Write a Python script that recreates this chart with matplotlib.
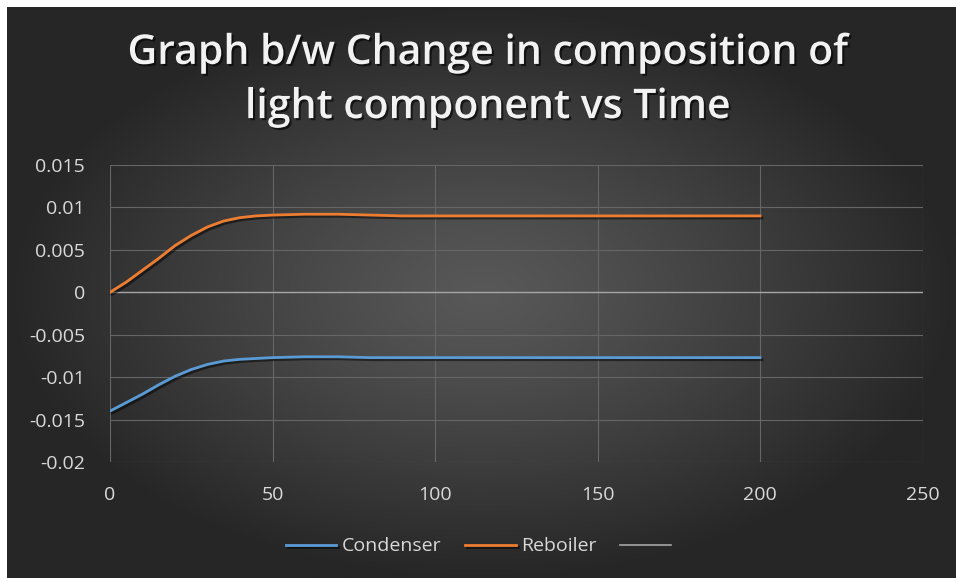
import matplotlib
matplotlib.use("Agg")
import matplotlib.pyplot as plt
import matplotlib.patheffects as pe
import numpy as np

# time and composition change
t = [0, 5, 10, 15, 20, 25, 30, 35, 40, 45, 50, 60, 70, 80, 90, 100, 120, 140, 160, 180, 200]
condenser = [-0.0140, -0.0130, -0.0120, -0.0109, -0.0099, -0.0091, -0.0085, -0.0081, -0.0079,
             -0.0078, -0.0077, -0.0076, -0.0076, -0.0077, -0.0077, -0.0077, -0.0077, -0.0077,
             -0.0077, -0.0077, -0.0077]
reboiler = [0.0, 0.0012, 0.0026, 0.0040, 0.0055, 0.0067, 0.0077, 0.0084, 0.0088, 0.0090,
            0.0091, 0.0092, 0.0092, 0.0091, 0.0090, 0.0090, 0.0090, 0.0090, 0.0090, 0.0090, 0.0090]
xticks = [0, 50, 100, 150, 200, 250]
yticks = [-0.02, -0.015, -0.01, -0.005, 0, 0.005, 0.01, 0.015]
ytick_labels = ['-0.02', '-0.015', '-0.01', '-0.005', '0', '0.005', '0.01', '0.015']

W, H = 956, 578
fig = plt.figure(figsize=(W / 100, H / 100), dpi=100, facecolor='white')

# dark radial background like the excel chart style
bg = fig.add_axes([7 / W, 0, 1 - 7 / W, 1 - 7 / H])
yy, xx = np.mgrid[0:300, 0:500]
dx = (xx - 250) / 250.0
dy = (yy - 150) / 150.0
r = np.clip(np.sqrt(dx ** 2 + dy ** 2), 0, 1)
c = (0x58 - (0x58 - 0x26) * r ** 1.2) / 255.0
bg.imshow(np.dstack([c, c, c]), aspect='auto', extent=[0, 1, 0, 1])
bg.axis('off')

ax = fig.add_axes([110 / W, 1 - 462 / H, (922.5 - 110) / W, (462 - 165) / H])
ax.patch.set_alpha(0)

shadow = [pe.SimpleLineShadow(offset=(1.5, -1.5), shadow_color='black', alpha=0.5), pe.Normal()]
ax.plot(t, condenser, color='#5b9bd5', lw=2.0, label='Condenser', path_effects=shadow)
ax.plot(t, reboiler, color='#ed7d31', lw=2.0, label='Reboiler', path_effects=shadow)
ax.plot([], [], color='#a6a6a6', lw=1.2, label=' ')

ax.set_xlim(0, 250)
ax.set_ylim(-0.02, 0.015)
ax.set_xticks(xticks)
ax.set_yticks(yticks)
ax.set_yticklabels(ytick_labels)
ax.grid(True, color='#666666', lw=0.8)
ax.set_axisbelow(True)
ax.axhline(0, color='#a6a6a6', lw=1.0, zorder=1.5)
for s in ax.spines.values():
    s.set_visible(False)
ax.tick_params(length=0, colors='#d9d9d9', labelsize=14)
ax.tick_params(axis='x', pad=17)
ax.tick_params(axis='y', pad=18)
for lab in ax.get_xticklabels() + ax.get_yticklabels():
    lab.set_family('Open Sans')

leg = ax.legend(loc='upper center', bbox_to_anchor=(0.46, -0.195), ncol=3, frameon=False,
                handlelength=2.6, columnspacing=1.2, handletextpad=0.3,
                prop={'family': 'Open Sans', 'size': 14})
for txt in leg.get_texts():
    txt.set_color('#d9d9d9')

fig.text(488 / W, 1 - 80 / H, 'Graph b/w Change in composition of\nlight component vs Time',
         ha='center', va='center', color='#f2f2f2', fontsize=29.5, fontweight='semibold',
         family='Open Sans', linespacing=1.38,
         path_effects=[pe.withSimplePatchShadow(offset=(1.5, -1.5), shadow_rgbFace='black', alpha=0.6)])

fig.savefig('out.png', dpi=100, facecolor=fig.get_facecolor())
